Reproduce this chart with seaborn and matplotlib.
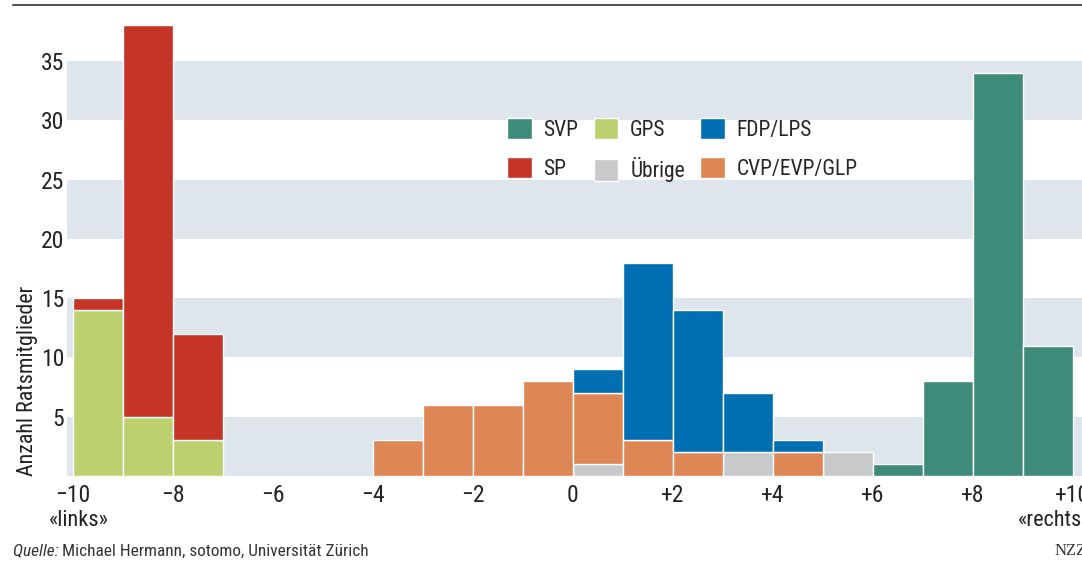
import numpy as np
import pandas as pd
import matplotlib.pyplot as plt
from matplotlib.patches import Patch
from matplotlib.lines import Line2D
from matplotlib import font_manager
import seaborn as sns

sns.set_style("white")
avail = {f.name for f in font_manager.fontManager.ttflist}
fams = [f for f in ["Roboto Condensed", "Liberation Sans Narrow", "Roboto"] if f in avail]
plt.rcParams["font.family"] = fams + ["DejaVu Sans"]

# bins of width 1 from -10 to +10 (left edges)
bin_left = list(range(-10, 10))

# counts per bin, one list per party
svp    = [0, 0, 0, 0, 0, 0, 0, 0, 0, 0, 0, 0, 0, 0, 0, 0, 1, 8, 34, 11]
fdp    = [0, 0, 0, 0, 0, 0, 0, 0, 0, 0, 2, 15, 12, 5, 1, 0, 0, 0, 0, 0]
sp     = [1, 33, 9, 0, 0, 0, 0, 0, 0, 0, 0, 0, 0, 0, 0, 0, 0, 0, 0, 0]
cvp    = [0, 0, 0, 0, 0, 0, 3, 6, 6, 8, 6, 3, 2, 0, 2, 0, 0, 0, 0, 0]
gps    = [14, 5, 3, 0, 0, 0, 0, 0, 0, 0, 0, 0, 0, 0, 0, 0, 0, 0, 0, 0]
uebrige = [0, 0, 0, 0, 0, 0, 0, 0, 0, 0, 1, 0, 0, 2, 0, 2, 0, 0, 0, 0]

parties = ["SVP", "FDP/LPS", "SP", "CVP/EVP/GLP", "GPS", "Übrige"]
counts = [svp, fdp, sp, cvp, gps, uebrige]
colors = {"SVP": "#3d8b78", "FDP/LPS": "#0070b3", "SP": "#c63427",
          "CVP/EVP/GLP": "#de8654", "GPS": "#bdd070", "Übrige": "#c8c9cb"}

x_ticks = list(range(-10, 11, 2))
x_labels = ["−10", "−8", "−6", "−4", "−2", "0", "+2", "+4", "+6", "+8", "+10"]
y_ticks = [5, 10, 15, 20, 25, 30, 35]

rows = []
for party, c in zip(parties, counts):
    for left, n in zip(bin_left, c):
        if n > 0:
            rows.append({"party": party, "pos": left + 0.5, "n": n})
df = pd.DataFrame(rows)

fig = plt.figure(figsize=(10.82, 5.72), dpi=100)
ax = fig.add_axes([67 / 1082, 96 / 572, 1015 / 1082, 462.5 / 572])

for lo in [0, 10, 20, 30]:
    ax.axhspan(lo, lo + 5, color="#dfe5ec", lw=0, zorder=0)

sns.histplot(data=df, x="pos", weights="n", hue="party", hue_order=parties,
             palette=colors, multiple="stack", bins=20, binrange=(-10, 10),
             alpha=1, edgecolor="white", linewidth=1, legend=False, ax=ax,
             zorder=2)
for p in list(ax.patches):
    if p.get_height() <= 0:
        p.remove()

ax.set_xlim(-10.12, 10.18)
ax.set_ylim(0, 39)
ax.set_xticks(x_ticks)
ax.set_xticklabels(x_labels)
ax.set_yticks(y_ticks)
ax.tick_params(axis="both", length=0, labelsize=17, colors="#222222")
ax.tick_params(axis="x", pad=6)
ax.tick_params(axis="y", pad=2)
ax.set_xlabel("")
ax.set_ylabel("")
for s in ax.spines.values():
    s.set_visible(False)

fig.text(28 / 1082, 96 / 572, "Anzahl Ratsmitglieder", rotation=90,
         ha="center", va="bottom", fontsize=15.8, color="#222222")
fig.text(49 / 1082, 1 - 521 / 572, "«links»", ha="left", va="center",
         fontsize=16, color="#222222")
fig.text(1018 / 1082, 1 - 521 / 572, "«rechts»", ha="left", va="center",
         fontsize=16, color="#222222")
q = fig.text(13 / 1082, 1 - 551 / 572, "Quelle: ", ha="left", va="center",
             fontsize=12.4, style="italic", color="#333333")
fig.canvas.draw()
qx = q.get_window_extent().x1 / 1082
fig.text(qx, 1 - 551 / 572, "Michael Hermann, sotomo, Universität Zürich",
         ha="left", va="center", fontsize=12.4, color="#333333")
fig.text(1055 / 1082, 1 - 551 / 572, "NZZ", ha="left", va="center",
         fontsize=12, family="Liberation Serif", color="#333333")

fig.add_artist(Line2D([13 / 1082, 1], [1 - 5 / 572, 1 - 5 / 572],
                      color="#555555", lw=1.5))

legend_order = ["SVP", "SP", "GPS", "Übrige", "FDP/LPS", "CVP/EVP/GLP"]
handles = [Patch(facecolor=colors[p], edgecolor="white", label=p)
           for p in legend_order]
fig.legend(handles=handles, ncol=3, loc="upper left",
           bbox_to_anchor=(507 / 1082, 1 - 118 / 572), frameon=False,
           fontsize=15.5, handlelength=1.15, handleheight=1.15,
           handletextpad=0.55, columnspacing=0.7, labelspacing=0.75,
           borderpad=0, borderaxespad=0)

fig.savefig("out.png", dpi=100)
